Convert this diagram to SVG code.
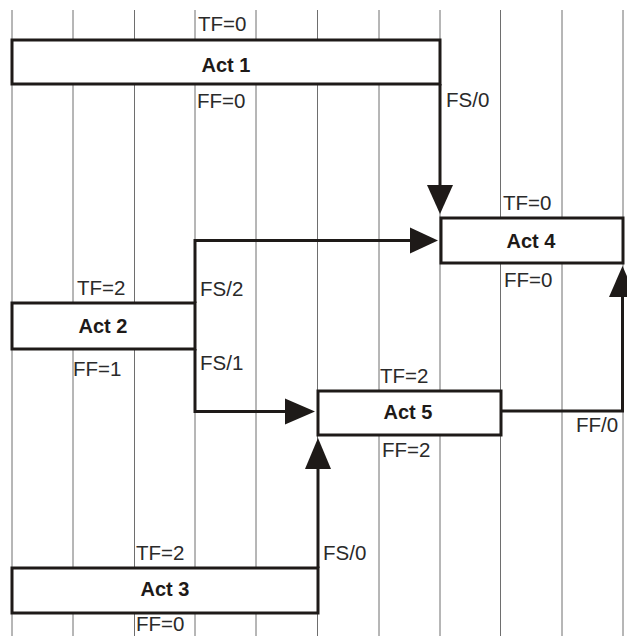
<svg xmlns="http://www.w3.org/2000/svg" width="627" height="636" viewBox="0 0 627 636">
<style>
.grid line{stroke:#6e6e6e;stroke-width:1}
.box{fill:#fff;stroke:#1e1a18;stroke-width:3}
.name{font-family:"Liberation Sans",Arial,sans-serif;font-size:20px;font-weight:bold;fill:#1e1a18;text-anchor:middle}
.lbl{font-family:"Liberation Sans",Arial,sans-serif;font-size:20.5px;fill:#2a2a2a}
.conn path{fill:none;stroke:#1e1a18;stroke-width:3}
.conn polygon{fill:#1e1a18}
</style>
<rect width="627" height="636" fill="#fff"/>
<g class="grid">
<line x1="12" y1="10" x2="12" y2="636"/>
<line x1="73" y1="10" x2="73" y2="636"/>
<line x1="134.5" y1="10" x2="134.5" y2="636"/>
<line x1="195" y1="10" x2="195" y2="636"/>
<line x1="256" y1="10" x2="256" y2="636"/>
<line x1="317.5" y1="10" x2="317.5" y2="636"/>
<line x1="379" y1="10" x2="379" y2="636"/>
<line x1="440" y1="10" x2="440" y2="636"/>
<line x1="500.5" y1="10" x2="500.5" y2="636"/>
<line x1="562" y1="10" x2="562" y2="636"/>
<line x1="623" y1="10" x2="623" y2="636"/>
</g>
<g class="conn">
<path d="M440,84 V190"/>
<polygon points="427,185 453,185 440,214"/>
<path d="M195,303 V240.5 H414"/>
<polygon points="410,227.5 410,253.5 438,240.5"/>
<path d="M195,349 V411.5 H290"/>
<polygon points="285,398.5 285,424.5 315,411.5"/>
<path d="M318,568 V465"/>
<polygon points="305,469 331,469 318,438"/>
<path d="M502,411 H622.5 V293"/>
<polygon points="609,297 636,297 622.5,266"/>
</g>
<g id="act1">
<rect class="box" x="12" y="40" width="428" height="44"/>
<text class="name" x="226" y="72">Act 1</text>
<text class="lbl" x="198" y="31">TF=0</text>
<text class="lbl" x="197" y="108">FF=0</text>
</g>
<g id="act2">
<rect class="box" x="12" y="303" width="183" height="46"/>
<text class="name" x="103" y="333">Act 2</text>
<text class="lbl" x="77" y="295">TF=2</text>
<text class="lbl" x="73" y="376">FF=1</text>
</g>
<g id="act3">
<rect class="box" x="12" y="568" width="306" height="45"/>
<text class="name" x="165" y="596">Act 3</text>
<text class="lbl" x="136" y="560">TF=2</text>
<text class="lbl" x="136" y="631">FF=0</text>
</g>
<g id="act4">
<rect class="box" x="441" y="218" width="182" height="45"/>
<text class="name" x="531" y="248">Act 4</text>
<text class="lbl" x="503" y="210">TF=0</text>
<text class="lbl" x="504" y="287">FF=0</text>
</g>
<g id="act5">
<rect class="box" x="318" y="391" width="183" height="44"/>
<text class="name" x="408" y="419">Act 5</text>
<text class="lbl" x="380" y="383">TF=2</text>
<text class="lbl" x="382" y="457">FF=2</text>
</g>
<g id="connector-labels">
<text class="lbl" x="446" y="107">FS/0</text>
<text class="lbl" x="200" y="296">FS/2</text>
<text class="lbl" x="200" y="370">FS/1</text>
<text class="lbl" x="323" y="560">FS/0</text>
<text class="lbl" x="576" y="432">FF/0</text>
</g>
</svg>
